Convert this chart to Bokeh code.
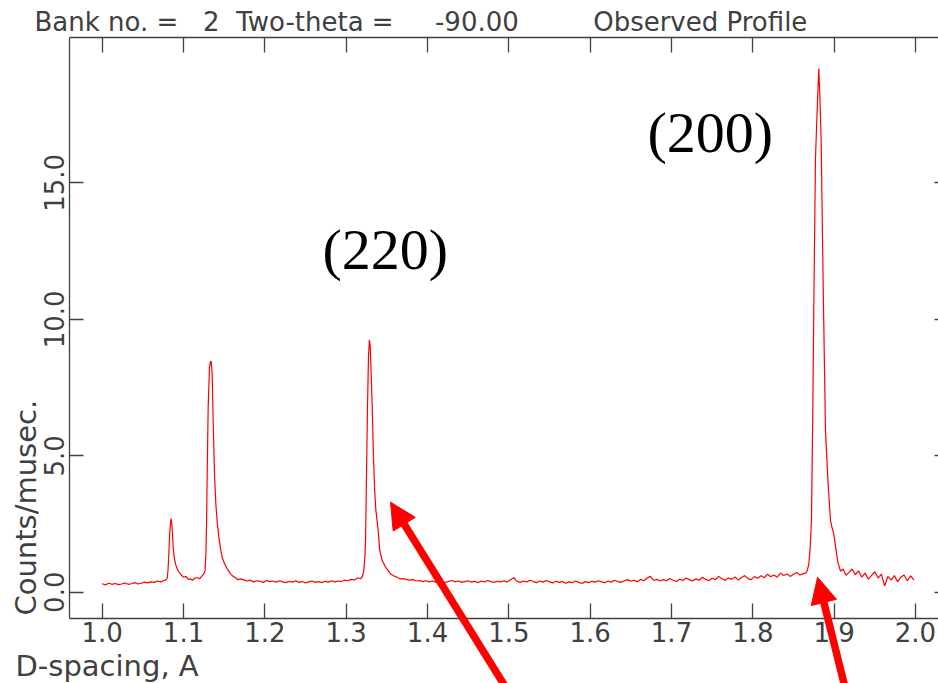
import numpy as np
from bokeh.plotting import figure
from bokeh.models import (Range1d, LinearAxis, FixedTicker, PrintfTickFormatter,
                          Label, Arrow, NormalHead, ColumnDataSource)
from bokeh.embed import file_html
from bokeh.resources import INLINE

# ---------------------------------------------------------------------------
# Observed TOF profile, bank 2 (2-theta = -90): d-spacing (A) vs counts/musec.
# ---------------------------------------------------------------------------
bg_a_d = [1.000, 1.004, 1.008, 1.012, 1.016, 1.020, 1.024, 1.028, 1.032, 1.036,
          1.040, 1.044, 1.048, 1.052, 1.056, 1.060, 1.064, 1.068, 1.072, 1.076]
bg_a_c = [0.31, 0.27, 0.33, 0.29, 0.32, 0.28, 0.30, 0.34, 0.29, 0.31,
          0.35, 0.30, 0.33, 0.37, 0.34, 0.38, 0.36, 0.41, 0.38, 0.43]

# small reflection near 1.085 A
peak_a_d = [1.078, 1.080, 1.081, 1.082, 1.083, 1.084, 1.0848, 1.0856, 1.0865, 1.0873,
            1.0880, 1.0890, 1.0901, 1.0915, 1.0930, 1.0945, 1.0963, 1.0980, 1.1003, 1.1030,
            1.1060, 1.1086, 1.1110, 1.1140, 1.1168, 1.1200, 1.1230, 1.1245, 1.1258]
peak_a_c = [0.44, 0.52, 0.85, 1.45, 2.15, 2.55, 2.70, 2.52, 2.10, 1.65,
            1.41, 1.22, 1.04, 0.92, 0.80, 0.74, 0.67, 0.60, 0.55, 0.58,
            0.47, 0.49, 0.44, 0.52, 0.53, 0.50, 0.61, 0.66, 0.73]

# reflection near 1.134 A
peak_b_d = [1.1265, 1.1275, 1.1283, 1.1291, 1.1303, 1.1319, 1.1330, 1.1340, 1.1352, 1.1365,
            1.1381, 1.1397, 1.1414, 1.1434, 1.1455, 1.1475, 1.1504, 1.1537, 1.1578, 1.1610,
            1.1639, 1.1670, 1.1700]
peak_b_c = [0.80, 1.40, 2.50, 4.34, 6.78, 8.25, 8.42, 8.47, 8.00, 6.17,
            4.34, 3.24, 2.57, 2.02, 1.59, 1.28, 1.04, 0.86, 0.67, 0.58,
            0.53, 0.46, 0.49]

bg_b_d = [1.174, 1.178, 1.182, 1.186, 1.190, 1.194, 1.198, 1.202, 1.206, 1.210,
          1.214, 1.218, 1.222, 1.226, 1.230, 1.234, 1.238, 1.242, 1.246, 1.250,
          1.254, 1.258, 1.262, 1.266, 1.270, 1.274, 1.278, 1.282, 1.286, 1.290,
          1.294, 1.298, 1.302, 1.306, 1.310, 1.314]
bg_b_c = [0.45, 0.41, 0.44, 0.38, 0.42, 0.40, 0.36, 0.43, 0.39, 0.41,
          0.37, 0.42, 0.38, 0.35, 0.40, 0.37, 0.42, 0.36, 0.39, 0.34,
          0.38, 0.41, 0.36, 0.39, 0.35, 0.40, 0.37, 0.42, 0.38, 0.41,
          0.39, 0.44, 0.42, 0.47, 0.45, 0.52]

# (220) reflection
peak_c_d = [1.3180, 1.3200, 1.3217, 1.3230, 1.3238, 1.3250, 1.3262, 1.3274, 1.3285, 1.3295,
            1.3305, 1.3320, 1.3335, 1.3350, 1.3365, 1.3389, 1.3413, 1.3443, 1.3483, 1.3520,
            1.3545, 1.3585, 1.3627, 1.3660]
peak_c_c = [0.50, 0.58, 0.80, 1.30, 1.89, 4.34, 6.78, 8.61, 9.25, 9.05,
            8.20, 6.78, 5.00, 3.73, 3.00, 2.38, 1.53, 1.16, 0.92, 0.78,
            0.67, 0.60, 0.55, 0.49]

bg_c_d = [1.370, 1.374, 1.378, 1.382, 1.386, 1.390, 1.394, 1.398, 1.402, 1.406,
          1.410, 1.414, 1.418, 1.422, 1.426, 1.430, 1.434, 1.438, 1.442, 1.446,
          1.450, 1.454, 1.458, 1.462, 1.466, 1.470, 1.474, 1.478, 1.482, 1.486,
          1.490, 1.494, 1.498, 1.502, 1.506, 1.510, 1.514, 1.518, 1.522, 1.526,
          1.530, 1.534, 1.538, 1.542, 1.546, 1.550, 1.554, 1.558, 1.562, 1.566,
          1.570, 1.574, 1.578, 1.582, 1.586, 1.590, 1.594, 1.598, 1.602, 1.606,
          1.610, 1.614, 1.618, 1.622, 1.626, 1.630, 1.634, 1.638, 1.642, 1.646,
          1.650, 1.654, 1.658, 1.662, 1.666, 1.670, 1.674, 1.678, 1.682, 1.686,
          1.690, 1.694, 1.698, 1.702, 1.706, 1.710, 1.714, 1.718, 1.722, 1.726,
          1.730, 1.734, 1.738, 1.742, 1.746, 1.750, 1.754, 1.758, 1.762, 1.766,
          1.770, 1.774, 1.778, 1.782, 1.786, 1.790, 1.794, 1.798, 1.802, 1.806,
          1.810, 1.814, 1.818, 1.822, 1.826, 1.830, 1.834, 1.838, 1.842, 1.846,
          1.850, 1.854, 1.858, 1.862]
bg_c_c = [0.50, 0.47, 0.44, 0.46, 0.41, 0.43, 0.39, 0.42, 0.38, 0.41,
          0.37, 0.42, 0.39, 0.36, 0.40, 0.43, 0.38, 0.41, 0.36, 0.39,
          0.42, 0.37, 0.40, 0.35, 0.41, 0.38, 0.43, 0.39, 0.36, 0.40,
          0.38, 0.42, 0.37, 0.46, 0.53, 0.40, 0.36, 0.41, 0.38, 0.44,
          0.39, 0.35, 0.41, 0.37, 0.43, 0.38, 0.34, 0.40, 0.36, 0.39,
          0.33, 0.38, 0.35, 0.41, 0.36, 0.32, 0.39, 0.35, 0.40, 0.37,
          0.42, 0.38, 0.35, 0.41, 0.37, 0.44, 0.39, 0.36, 0.42, 0.46,
          0.40, 0.44, 0.38, 0.47, 0.42, 0.52, 0.58, 0.43, 0.47, 0.41,
          0.46, 0.42, 0.50, 0.44, 0.39, 0.48, 0.43, 0.52, 0.46, 0.41,
          0.49, 0.44, 0.55, 0.47, 0.42, 0.51, 0.46, 0.58, 0.49, 0.44,
          0.52, 0.47, 0.56, 0.45, 0.53, 0.61, 0.50, 0.46, 0.57, 0.51,
          0.60, 0.53, 0.66, 0.57, 0.63, 0.55, 0.70, 0.61, 0.67, 0.58,
          0.66, 0.72, 0.63, 0.68]

# (200) reflection
peak_d_d = [1.8648, 1.8668, 1.8688, 1.8705, 1.8721, 1.8737, 1.8750, 1.8770, 1.8790, 1.8811,
            1.8825, 1.8840, 1.8865, 1.8893, 1.8926, 1.8955, 1.8975, 1.8988, 1.9000, 1.9016,
            1.9045, 1.9078, 1.9110, 1.9145]
peak_d_c = [0.70, 0.78, 1.03, 1.60, 2.62, 6.60, 10.58, 15.88, 17.60, 19.19,
            18.10, 16.54, 11.22, 5.94, 3.95, 2.63, 2.35, 2.22, 2.05, 1.69,
            1.10, 0.77, 0.85, 0.62]

bg_d_d = [1.918, 1.922, 1.926, 1.930, 1.934, 1.938, 1.942, 1.946, 1.950, 1.954,
          1.958, 1.962, 1.966, 1.970, 1.974, 1.978, 1.982, 1.986, 1.990, 1.994, 1.998]
bg_d_c = [0.72, 0.85, 0.64, 0.78, 0.55, 0.70, 0.48, 0.62, 0.75, 0.52,
          0.66, 0.23, 0.58, 0.44, 0.61, 0.38, 0.55, 0.63, 0.42, 0.60, 0.45]

x_ticks = [1.0, 1.1, 1.2, 1.3, 1.4, 1.5, 1.6, 1.7, 1.8, 1.9, 2.0]
y_ticks = [0.0, 5.0, 10.0, 15.0]

# reflection labels: (text, d at left edge, counts at anchor)
hkl_labels = [("(220)", 1.2709, 12.55), ("(200)", 1.6705, 16.84)]
# pointer arrows: (d tail, counts tail, d tip, counts tip)
pointers = [(1.4985, -3.60, 1.3545, 3.30), (1.9143, -3.60, 1.8796, 0.55)]

d_all = bg_a_d + peak_a_d + peak_b_d + bg_b_d + peak_c_d + bg_c_d + peak_d_d + bg_d_d
c_all = bg_a_c + peak_a_c + peak_b_c + bg_b_c + peak_c_c + bg_c_c + peak_d_c + bg_d_c
source = ColumnDataSource(data=dict(d=d_all, counts=c_all))

FONT = "DejaVu Sans"
INK = "#404040"

# box drawn by the four axes (data coordinates)
X_LO, X_HI = 0.9598, 2.0406
Y_LO, Y_HI = -0.953, 20.326

title_text = ("Bank no. =" + "\u00a0" * 3 + "2" + "\u00a0" * 2 + "Two-theta =" +
              "\u00a0" * 5 + "-90.00" + "\u00a0" * 9 + "Observed Profile")

# the frame spans the whole canvas; the axes are pinned inside it
p = figure(width=938, height=683, output_backend="svg", toolbar_location=None,
           x_range=Range1d(0.87495, 2.02828), y_range=Range1d(-3.345, 21.682),
           x_axis_type=None, y_axis_type=None,
           min_border_left=0, min_border_right=0, min_border_top=0, min_border_bottom=0)
p.outline_line_color = None
p.background_fill_color = "white"
p.border_fill_color = "white"


def style_axis(ax, tick_in, show_labels):
    ax.axis_line_color = INK
    ax.axis_line_width = 1.3
    ax.major_tick_line_color = INK
    ax.major_tick_line_width = 1.3
    ax.major_tick_in = tick_in
    ax.major_tick_out = 0
    ax.minor_tick_line_color = None
    ax.major_label_text_font = FONT
    ax.major_label_text_font_size = "26px"
    if show_labels:
        ax.major_label_text_color = INK
    else:
        ax.major_label_text_color = None
    return ax


fmt = PrintfTickFormatter(format="%.1f")
bottom = style_axis(LinearAxis(ticker=FixedTicker(ticks=x_ticks), formatter=fmt,
                               fixed_location=Y_LO, bounds=(X_LO, X_HI)), 15, True)
bottom.major_label_standoff = 4
top = style_axis(LinearAxis(ticker=FixedTicker(ticks=x_ticks), formatter=fmt,
                            fixed_location=Y_HI, bounds=(X_LO, X_HI)), 15, False)
left = style_axis(LinearAxis(ticker=FixedTicker(ticks=y_ticks), formatter=fmt,
                             fixed_location=X_LO, bounds=(Y_LO, Y_HI)), 14, True)
left.major_label_orientation = "vertical"
left.major_label_standoff = 5
right = style_axis(LinearAxis(ticker=FixedTicker(ticks=y_ticks), formatter=fmt,
                              fixed_location=X_HI, bounds=(Y_LO, Y_HI)), 14, False)

p.add_layout(bottom, "below")
p.add_layout(top, "above")
p.add_layout(left, "left")
p.add_layout(right, "right")

p.line(x="d", y="counts", source=source, line_color="red", line_width=1.2)

# heading and axis captions
p.add_layout(Label(x=0.91676, y=20.91, text=title_text, text_align="left",
                   text_baseline="alphabetic", text_font=FONT,
                   text_font_size="26px", text_color=INK))
p.add_layout(Label(x=0.90569, y=-0.854, text="Counts/musec.", angle=np.pi / 2,
                   text_align="left", text_baseline="alphabetic", text_font=FONT,
                   text_font_size="29px", text_color=INK))
p.add_layout(Label(x=0.8934, y=-2.686, text="D-spacing, A", text_align="left",
                   text_baseline="alphabetic", text_font=FONT,
                   text_font_size="29px", text_color=INK))

for txt, lx, ly in hkl_labels:
    p.add_layout(Label(x=lx, y=ly, text=txt, text_align="left", text_baseline="alphabetic",
                       text_font="Liberation Serif", text_font_size="58px",
                       text_color="black"))

for xs, ys, xe, ye in pointers:
    p.add_layout(Arrow(end=NormalHead(size=26, fill_color="red", line_color="red"),
                       x_start=xs, y_start=ys, x_end=xe, y_end=ye,
                       line_color="red", line_width=7.5))

open("out.html", "w").write(file_html(p, INLINE))
